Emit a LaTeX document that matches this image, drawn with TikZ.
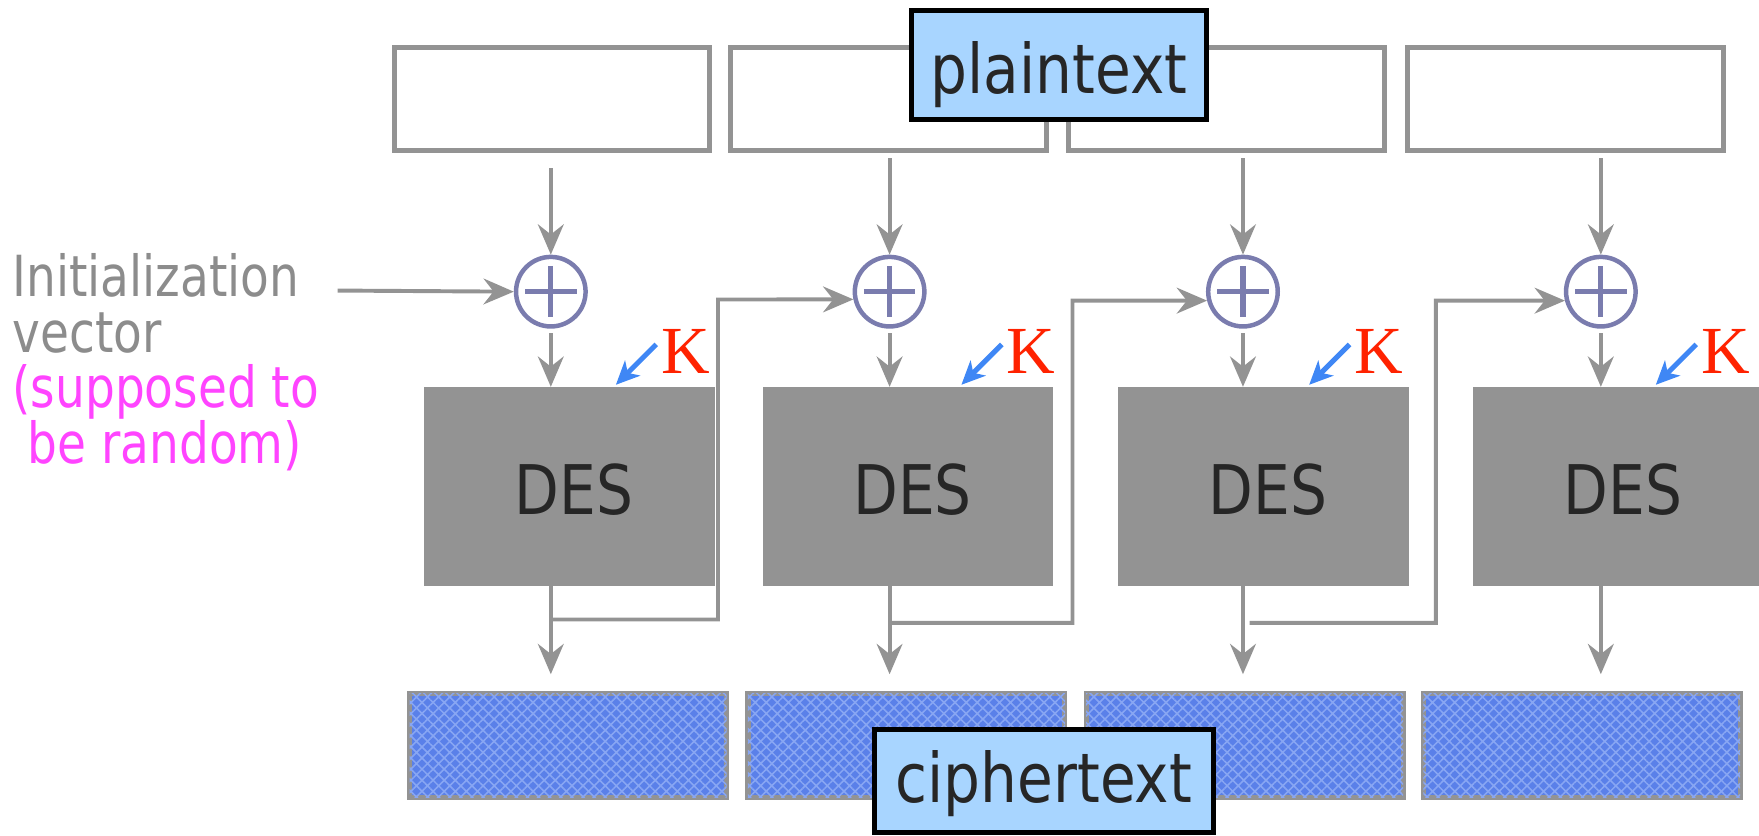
\documentclass[tikz,border=0pt]{standalone}
\usepackage{fontspec}
\newfontfamily\lab[FakeStretch=0.85]{DejaVu Sans}
\newfontfamily\ivf[FakeStretch=0.83]{DejaVu Sans}
\newfontfamily\kfont{Liberation Serif}
\usetikzlibrary{arrows.meta,patterns.meta,calc}
\definecolor{gline}{HTML}{939393}
\definecolor{desgray}{HTML}{939393}
\definecolor{lblue}{HTML}{A8D5FF}
\definecolor{cblue}{HTML}{5A80E9}
\definecolor{chatch}{HTML}{88A6F3}
\definecolor{xorc}{HTML}{7A7CAE}
\definecolor{txt}{HTML}{262626}
\definecolor{ivgray}{HTML}{8C8C8C}
\definecolor{mag}{HTML}{FF44FF}
\definecolor{kred}{HTML}{FF2200}
\definecolor{kblue}{HTML}{3F87F5}
\tikzset{
  pbox/.style={draw=gline, line width=4.5pt, fill=white, minimum width=281.5pt, minimum height=91.5pt, inner sep=0pt},
  cbox/.style={draw=gline, line width=4.5pt, fill=cblue, minimum width=282.5pt, minimum height=92.5pt, inner sep=0pt,
    postaction={pattern={Hatch[angle=45,distance=7pt,line width=1.4pt]}, pattern color=chatch}},
  lbl/.style={draw=black, line width=4.5pt, fill=lblue, inner sep=0pt, text=txt, text depth=0pt, font=\lab\fontsize{61}{61}\selectfont},
  desbox/.style={fill=desgray, minimum width=259pt, minimum height=177pt, inner sep=0pt, text=txt,
    text height=51pt, text depth=0pt, font=\lab\fontsize{61}{61}\selectfont},
  xor/.style={circle, draw=xorc, line width=4pt, minimum size=62pt, inner sep=0pt},
  arr/.style={draw=gline, line width=3.5pt, -{Stealth[length=27pt,width=23pt,inset=9pt]}},
  karr/.style={draw=kblue, line width=4.5pt, -{Stealth[length=21pt,width=19pt,inset=6pt]}},
  knode/.style={text=kred, font=\kfont\fontsize{60}{60}\selectfont, inner sep=0pt},
}
\begin{document}
\begin{tikzpicture}[x=1pt,y=-1pt]
\useasboundingbox (0,0) rectangle (1568,745);
% plaintext blocks
\node[pbox] (p1) at (492,88) {};
\node[pbox] (p2) at (792,88) {};
\node[pbox] (p3) at (1093.5,88) {};
\node[pbox] (p4) at (1395.5,88) {};
\node[lbl, minimum width=263.5pt, minimum height=97pt, text height=50pt] (pt) at (944,58) {plaintext};
% XOR
\node[xor] (x1) at (491,260) {};
\node[xor] (x2) at (793,260) {};
\node[xor] (x3) at (1108,260) {};
\node[xor] (x4) at (1427,260) {};
\foreach \n in {x1,x2,x3,x4}{
  \draw[xorc, line width=4.5pt] ($(\n)+(-23,0)$) -- ($(\n)+(23,0)$);
  \draw[xorc, line width=4.5pt] ($(\n)+(0,-23)$) -- ($(\n)+(0,23)$);
}
% DES
\node[desbox] (d1) at (507.5,433.5) {\hspace{8pt}DES};
\node[desbox] (d2) at (809.5,433.5) {\hspace{8pt}DES};
\node[desbox] (d3) at (1126.5,433.5) {\hspace{8pt}DES};
\node[desbox] (d4) at (1442.5,433.5) {\hspace{8pt}DES};
% ciphertext blocks
\node[cbox] (c1) at (506.5,664.5) {};
\node[cbox] (c2) at (808,664.5) {};
\node[cbox] (c3) at (1109.5,664.5) {};
\node[cbox] (c4) at (1410,664.5) {};
\node[lbl, minimum width=302.5pt, minimum height=92pt, text height=38pt] (ct) at (930.5,696) {ciphertext};
% plaintext -> xor
\draw[arr] ($(x1 |- p1.south)+(0,14)$) -- (x1.north);
\draw[arr] ($(x2 |- p2.south)+(0,5)$) -- (x2.north);
\draw[arr] ($(x3 |- p3.south)+(0,5)$) -- (x3.north);
\draw[arr] ($(x4 |- p4.south)+(0,5)$) -- (x4.north);
% xor -> DES, DES -> ciphertext
\foreach \i in {1,2,3,4}{
  \draw[arr] ($(x\i.south)+(0,4)$) -- (x\i |- d\i.north);
  \draw[arr] (x\i |- d\i.south) -- ($(x\i |- c\i.north)+(0,-15)$);
}
% chaining
\coordinate (f1) at (640,267);
\coordinate (f2) at (956,268);
\coordinate (f3) at (1280,268);
\draw[arr] ($(x1 |- d1.south)+(0,30)$) -| (f1) -- (x2.192);
\draw[arr] ($(x2 |- d2.south)+(0,33)$) -| (f2) -- (x3.194);
\draw[arr] ($(x3 |- d3.south)+(6,33)$) -| (f3) -- (x4.194);
% IV
\node[align=left, anchor=north west, inner sep=0pt, text=ivgray, font=\ivf\fontsize{50.5}{49.5}\selectfont] (iv) at (11,226)
  {Initialization\\vector\\{\color{mag}(supposed to}\\{\color{mag}\ be random)}};
\coordinate (ivs) at (301,259);
\draw[arr] (ivs) -- (x1.west);
% keys
\node[knode] (k1) at (611,313) {K};
\node[knode] (k2) at (919,313) {K};
\node[knode] (k3) at (1229,313) {K};
\node[knode] (k4) at (1538,313) {K};
\foreach \i in {1,2,3,4}{
  \draw[karr] ($(k\i)+(-26,-6)$) -- ($(k\i)+(-62,30)$);
}
\end{tikzpicture}
\end{document}
